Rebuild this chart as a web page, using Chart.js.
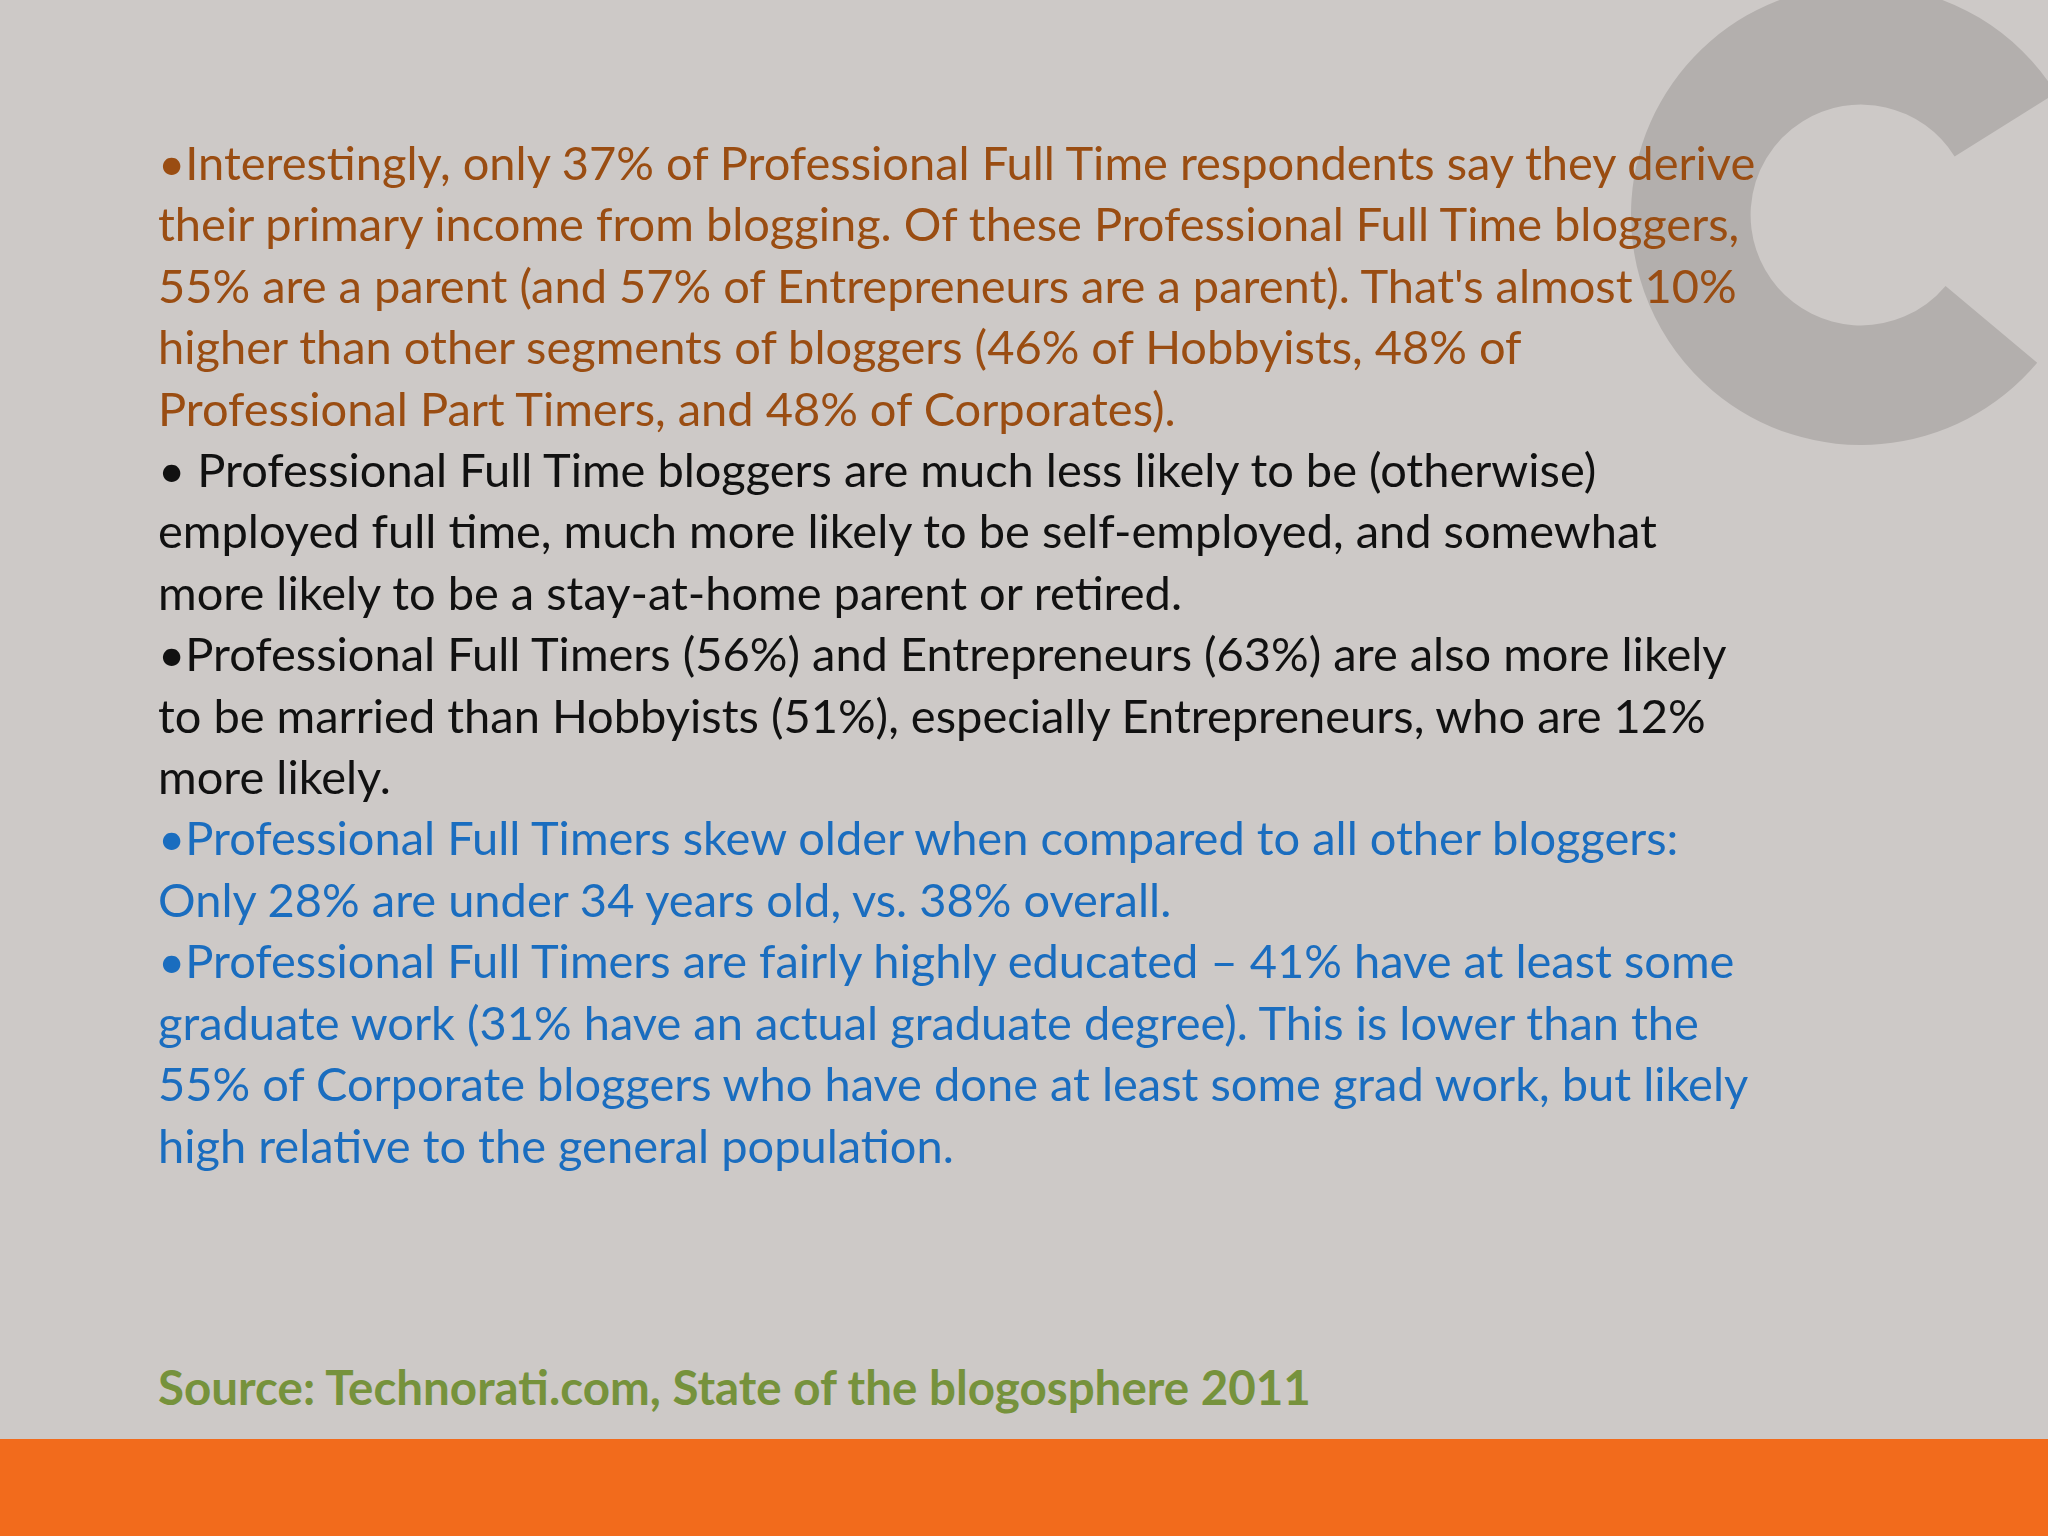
<!DOCTYPE html>
<html><head><meta charset="utf-8">
<script src="https://cdn.jsdelivr.net/npm/chart.js@4"></script>
<style>
html,body{margin:0;padding:0}
body{width:2048px;height:1536px;background:#cdc9c7;position:relative;overflow:hidden;font-family:Lato,"Open Sans",sans-serif}
#logo{position:absolute;left:1631px;top:-15px;width:460px;height:460px}
#text{position:absolute;left:158px;top:132px;font-size:47px;line-height:61.4px;white-space:nowrap}
.o{color:#9a4d12}.k{color:#111}.b{color:#1a6dbf}
#src{position:absolute;left:158px;top:1358px;font-size:47.5px;font-weight:bold;color:#76923c;white-space:nowrap}
#bar{position:absolute;left:0;top:1439px;width:2048px;height:97px;background:#f26b1c}
</style></head><body>
<div id="logo"><canvas id="c"></canvas></div>
<div id="text"></div>
<div id="src">Source: Technorati.com, State of the blogosphere 2011</div>
<div id="bar"></div>
<script>
const logoSegments=["ring","gap"];
const logoValues=[80,20];
const lines=[
["o","•Interestingly, only 37% of Professional Full Time respondents say they derive"],
["o","their primary income from blogging. Of these Professional Full Time bloggers,"],
["o","55% are a parent (and 57% of Entrepreneurs are a parent). That's almost 10%"],
["o","higher than other segments of bloggers (46% of Hobbyists, 48% of"],
["o","Professional Part Timers, and 48% of Corporates)."],
["k","• Professional Full Time bloggers are much less likely to be (otherwise)"],
["k","employed full time, much more likely to be self-employed, and somewhat"],
["k","more likely to be a stay-at-home parent or retired."],
["k","•Professional Full Timers (56%) and Entrepreneurs (63%) are also more likely"],
["k","to be married than Hobbyists (51%), especially Entrepreneurs, who are 12%"],
["k","more likely."],
["b","•Professional Full Timers skew older when compared to all other bloggers:"],
["b","Only 28% are under 34 years old, vs. 38% overall."],
["b","•Professional Full Timers are fairly highly educated – 41% have at least some"],
["b","graduate work (31% have an actual graduate degree). This is lower than the"],
["b","55% of Corporate bloggers who have done at least some grad work, but likely"],
["b","high relative to the general population."]
];
const t=document.getElementById('text');
lines.forEach(([c,s])=>{const d=document.createElement('div');d.className=c;d.textContent=s;t.appendChild(d);});
new Chart(document.getElementById('c'),{type:'doughnut',
data:{labels:logoSegments,datasets:[{data:logoValues,backgroundColor:['#b3afad','rgba(0,0,0,0)'],borderWidth:0}]},
options:{responsive:true,maintainAspectRatio:true,animation:false,cutout:'48%',rotation:130,
plugins:{legend:{display:false},tooltip:{enabled:false}}}});
</script>
</body></html>
